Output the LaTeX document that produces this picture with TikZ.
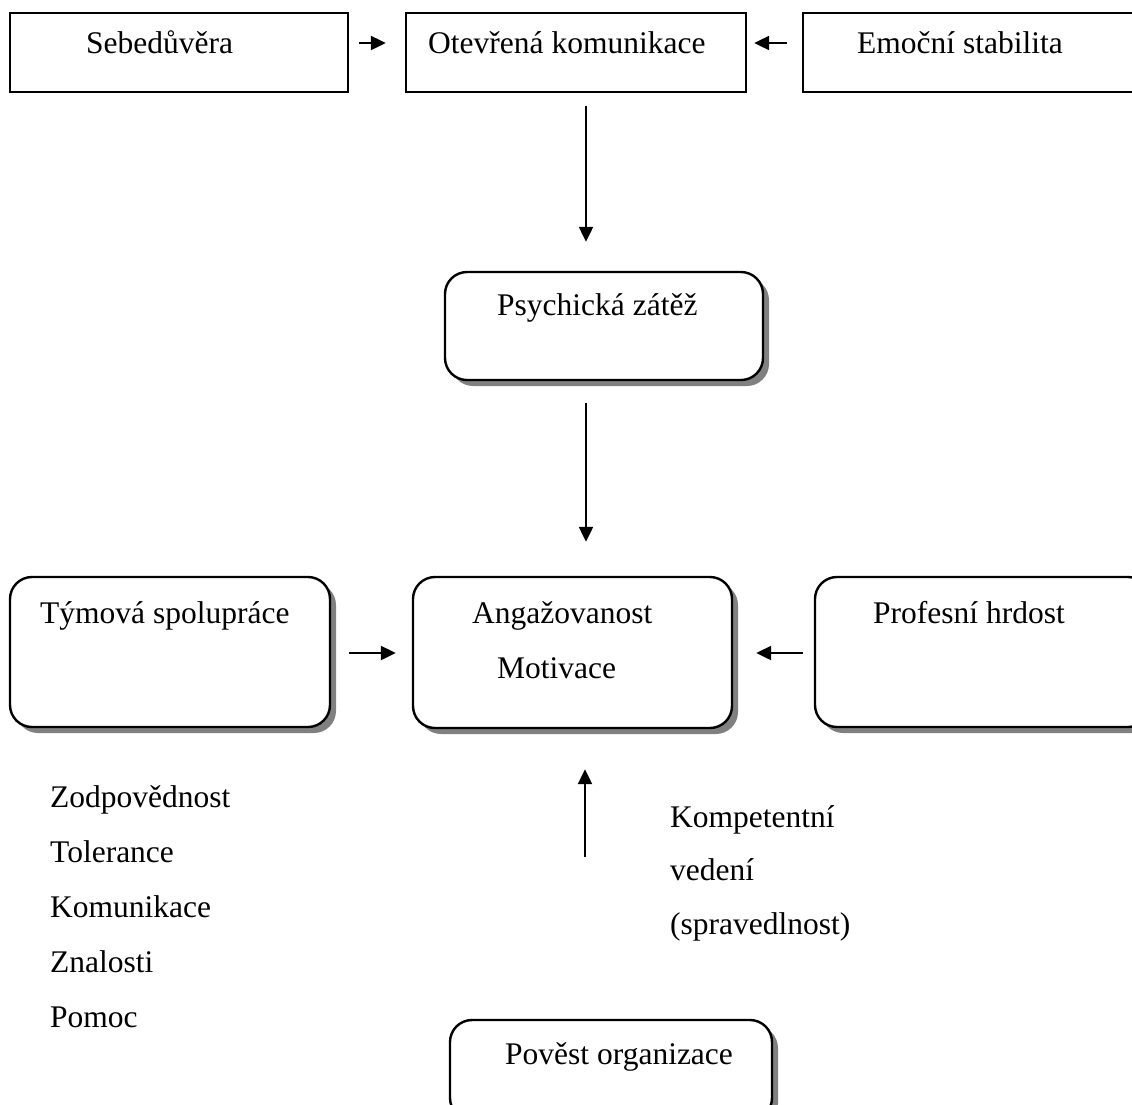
\documentclass[tikz,border=0pt]{standalone}
\usepackage{fontspec}
\setmainfont{Liberation Serif}
\usetikzlibrary{arrows.meta,shadows,calc}
\begin{document}
\begin{tikzpicture}[x=1pt,y=-1pt,
  lbl/.style={inner sep=0pt,anchor=base west,font=\fontsize{31.5}{36}\selectfont},
  sqbox/.style={draw,line width=2.4pt,minimum height=79pt,inner sep=0pt},
  rbox/.style={draw,line width=2.4pt,rounded corners=22pt,fill=white,inner sep=0pt,
    drop shadow={shadow xshift=6pt,shadow yshift=-6pt,fill=black!50,opacity=1}},
  arr/.style={line width=2.2pt,-{Triangle[length=15pt,width=14pt]}}]
\useasboundingbox (0,0) rectangle (1132,1104);
\clip (0,0) rectangle (1132,1104);
% top row
\node[sqbox,minimum width=338pt] (seb) at (179,52.5) {};
\node[sqbox,minimum width=340pt] (ote) at (576,52.5) {};
\node[sqbox,minimum width=347pt] (emo) at (976.5,52.5) {};
\node[lbl] (tseb) at (86,53) {Sebedůvěra};
\node[lbl] (tote) at (428,53) {Otevřená komunikace};
\node[lbl] (temo) at (857,53) {Emoční stabilita};
% middle
\node[rbox,minimum width=318pt,minimum height=108pt] (psy) at (604,326) {};
\node[lbl] (tpsy) at (497,315) {Psychická zátěž};
\node[rbox,minimum width=320pt,minimum height=150pt] (tym) at (170,652) {};
\node[rbox,minimum width=319pt,minimum height=151pt] (ang) at (572.5,652.5) {};
\node[rbox,minimum width=335pt,minimum height=150pt] (pro) at (982.5,652) {};
\node[lbl] (ttym) at (40,623) {Týmová spolupráce};
\node[lbl] (tang) at (472,623) {Angažovanost};
\node[lbl] (tmot) at (497,678) {Motivace};
\node[lbl] (tpro) at (873,623) {Profesní hrdost};
% bottom
\node[rbox,minimum width=322pt,minimum height=100pt] (pov) at (611,1070) {};
\node[lbl] (tpov) at (505,1064) {Pověst organizace};
% lists
\node[lbl] (l1) at (50,807) {Zodpovědnost};
\node[lbl] (l2) at (50,862) {Tolerance};
\node[lbl] (l3) at (50,917) {Komunikace};
\node[lbl] (l4) at (50,972) {Znalosti};
\node[lbl] (l5) at (50,1027) {Pomoc};
\node[lbl] (r1) at (670,827) {Kompetentní};
\node[lbl] (r2) at (670,880) {vedení};
\node[lbl] (r3) at (670,934) {(spravedlnost)};
% arrows
\draw[arr,shorten <=10pt,shorten >=19pt] ($(seb.east)+(0,-9.5)$) -- ($(ote.west)+(0,-9.5)$);
\draw[arr,shorten <=15pt,shorten >=7pt] ($(emo.west)+(0,-9.5)$) -- ($(ote.east)+(0,-9.5)$);
\draw[arr,shorten <=13pt,shorten >=29pt] ($(ote.south)+(10,0)$) -- ($(psy.north)+(-18,0)$);
\draw[arr,shorten <=22pt,shorten >=34pt] ($(psy.south)+(-18,0)$) -- ($(ang.north)+(13.5,0)$);
\draw[arr,shorten <=18pt,shorten >=16pt] ($(tym.east)+(0,1)$) -- ($(ang.west)+(0,0.5)$);
\draw[arr,shorten <=13pt,shorten >=23pt] ($(pro.east)+(-335,1)$) -- ($(ang.east)+(0,0.5)$);
\draw[arr,shorten <=162pt,shorten >=40pt] ($(pov.north)+(-26,0)$) -- ($(ang.south)+(12.5,0)$);
\end{tikzpicture}
\end{document}
